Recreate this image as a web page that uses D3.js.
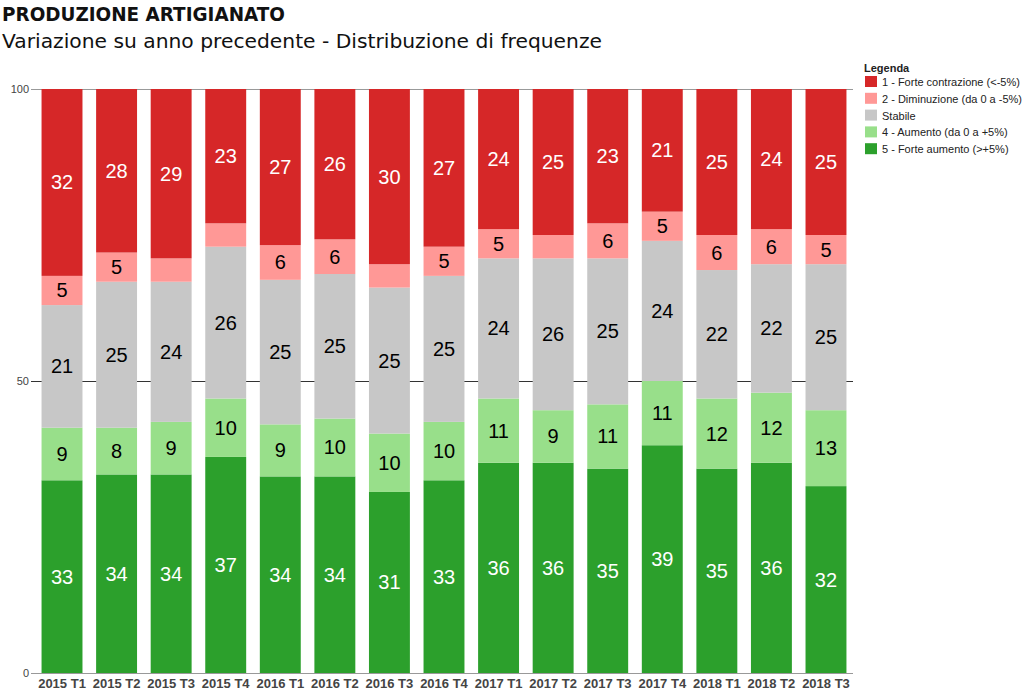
<!DOCTYPE html>
<html><head><meta charset="utf-8">
<script src="https://cdn.jsdelivr.net/npm/d3@7"></script>
<style>body{margin:0;background:#fff}svg{display:block}</style>
</head><body>
<svg id="c" width="1024" height="692"></svg>
<script>
const categories = ["2015 T1","2015 T2","2015 T3","2015 T4","2016 T1","2016 T2","2016 T3","2016 T4","2017 T1","2017 T2","2017 T3","2017 T4","2018 T1","2018 T2","2018 T3"];
const seriesNames = ["1 - Forte contrazione (<-5%)","2 - Diminuzione (da 0 a -5%)","Stabile","4 - Aumento (da 0 a +5%)","5 - Forte aumento (>+5%)"];
const forteContrazione = [32,28,29,23,27,26,30,27,24,25,23,21,25,24,25];
const diminuzione      = [5,5,4,4,6,6,4,5,5,4,6,5,6,6,5];
const stabile          = [21,25,24,26,25,25,25,25,24,26,25,24,22,22,25];
const aumento          = [9,8,9,10,9,10,10,10,11,9,11,11,12,12,13];
const forteAumento     = [33,34,34,37,34,34,31,33,36,36,35,39,35,36,32];
const yTicks = [0,50,100];
const colors = ["#d62728","#ff9896","#c7c7c7","#98df8a","#2ca02c"];
const labelColors = ["#fff","#000","#000","#000","#fff"];

const svg = d3.select("#c");
const x = d3.scaleBand().domain(categories).range([35,853]).paddingInner(0.25).paddingOuter(0.12);
const y = d3.scaleLinear().domain([0,100]).range([673,89]);

const seriesVals = [forteContrazione, diminuzione, stabile, aumento, forteAumento];
const rows = categories.map((c,i)=>{const o={cat:c}; seriesNames.forEach((s,k)=>o[s]=seriesVals[k][i]); return o;});
const keysBottomUp = seriesNames.slice().reverse();
const stack = d3.stack().keys(keysBottomUp).offset(d3.stackOffsetExpand);
const stacked = stack(rows);

svg.append("g").selectAll("line").data(yTicks).join("line")
  .attr("x1",31).attr("x2",853).attr("y1",d=>y(d)+0.5).attr("y2",d=>y(d)+0.5)
  .attr("stroke",d=>d===50?"#333":"#999").attr("stroke-width",1);
svg.append("g").selectAll("text").data(yTicks).join("text")
  .attr("x",29).attr("y",d=>y(d)+4).attr("text-anchor","end")
  .attr("font-family","Arial, 'Liberation Sans', sans-serif").attr("font-size",11).attr("fill","#444")
  .text(d=>d);

const g = svg.append("g");
stacked.forEach(layer=>{
  const k = seriesNames.indexOf(layer.key);
  const lg = g.append("g");
  lg.selectAll("rect").data(layer).join("rect")
    .attr("x",d=>x(d.data.cat)).attr("width",x.bandwidth())
    .attr("y",d=>y(d[1]*100)).attr("height",d=>y(d[0]*100)-y(d[1]*100))
    .attr("fill",colors[k]);
  lg.selectAll("text").data(layer.filter(d=>d.data[layer.key]>=5)).join("text")
    .attr("x",d=>x(d.data.cat)+x.bandwidth()/2)
    .attr("y",d=>(y(d[0]*100)+y(d[1]*100))/2+7)
    .attr("text-anchor","middle")
    .attr("font-family","Arial, 'Liberation Sans', sans-serif").attr("font-size",20)
    .attr("fill",labelColors[k])
    .text(d=>d.data[layer.key]);
});

svg.append("g").selectAll("text").data(categories).join("text")
  .attr("x",d=>x(d)+x.bandwidth()/2).attr("y",688).attr("text-anchor","middle")
  .attr("font-family","Arial, 'Liberation Sans', sans-serif").attr("font-size",13).attr("font-weight","bold")
  .attr("fill","#444").text(d=>d);

svg.append("text").attr("x",2).attr("y",21).attr("font-family","'DejaVu Sans', sans-serif")
  .attr("font-size",20).attr("font-weight","bold").attr("fill","#111")
  .attr("textLength",283).attr("lengthAdjust","spacingAndGlyphs").text("PRODUZIONE ARTIGIANATO");
svg.append("text").attr("x",2).attr("y",48).attr("font-family","'DejaVu Sans', sans-serif")
  .attr("font-size",20).attr("fill","#111")
  .attr("textLength",600).attr("lengthAdjust","spacingAndGlyphs").text("Variazione su anno precedente - Distribuzione di frequenze");

const lg = svg.append("g");
lg.append("text").attr("x",864).attr("y",72).attr("font-family","Arial, 'Liberation Sans', sans-serif")
  .attr("font-size",11).attr("font-weight","bold").attr("fill","#222").text("Legenda");
const items = lg.selectAll("g.it").data(seriesNames).join("g").attr("class","it")
  .attr("transform",(d,i)=>`translate(865,${76+i*16.8})`);
items.append("rect").attr("width",12).attr("height",11).attr("fill",(d,i)=>colors[i]);
items.append("text").attr("x",17).attr("y",10).attr("font-family","Arial, 'Liberation Sans', sans-serif")
  .attr("font-size",11).attr("fill","#222").text(d=>d);
</script>
</body></html>
